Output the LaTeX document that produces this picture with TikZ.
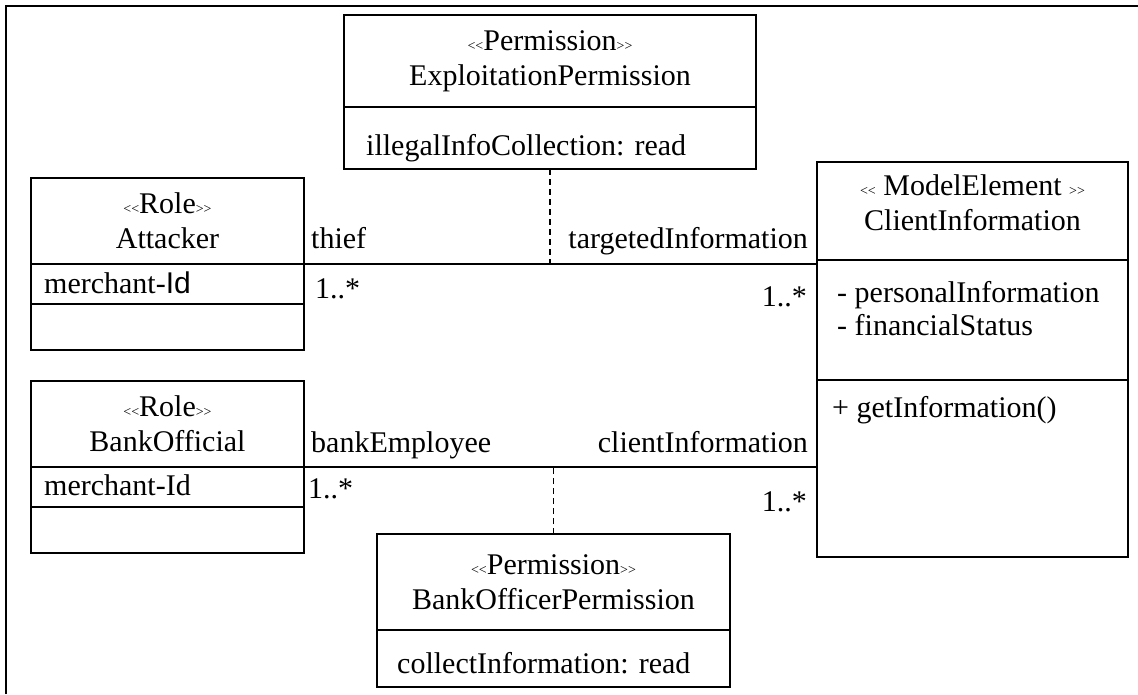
\documentclass[tikz,border=0pt]{standalone}
\usepackage{fontspec}
\setmainfont{Liberation Serif}
\newfontfamily\arialfont{Liberation Sans}
\usetikzlibrary{positioning}
\newcommand{\stype}[1]{{\fontsize{14}{14}\selectfont<\kern0pt<}#1{\fontsize{14}{14}\selectfont>\kern0pt>}}
\tikzset{
  comp/.style={draw, line width=1.8pt, inner sep=0pt, outer sep=0pt, align=center},
  memb/.style={anchor=base west, inner sep=0pt},
  rlab/.style={anchor=base east, inner sep=0pt},
  assoc/.style={line width=1.8pt},
  permlink/.style={line width=1.5pt, dash pattern=on 6pt off 4pt},
}

\begin{document}
\begin{tikzpicture}[x=1pt, y=-1pt, font=\fontsize{30}{35}\selectfont]
\useasboundingbox (0,0) rectangle (1138,694);
\draw[line width=2.2pt] (6,694) -- (6,6) -- (1138,6);
% permission classes
\node[comp, anchor=north west, minimum width=412, minimum height=92] (expHead) at (344,15) {\stype{Permission}\\ExploitationPermission};
\node[comp, below=0pt of expHead, minimum width=412, minimum height=62] (expAttr) {};
\node[memb] (expRead) at (366,155) {illegalInfoCollection: read};
\node[comp, anchor=north west, minimum width=353, minimum height=96] (bopHead) at (377,534) {\stype{Permission}\\BankOfficerPermission};
\node[comp, below=0pt of bopHead, minimum width=353, minimum height=57] (bopAttr) {};
\node[memb] (bopRead) at (397,673) {collectInformation: read};
% roles
\node[comp, anchor=north west, minimum width=273, minimum height=86] (atkHead) at (31,178) {\stype{Role}\\Attacker};
\node[comp, below=0pt of atkHead, minimum width=273, minimum height=40] (atkAttr) {};
\node[comp, below=0pt of atkAttr, minimum width=273, minimum height=46] (atkOps) {};
\node[memb] (atkId) at (44,293) {merchant-{\arialfont Id}};
\node[comp, anchor=north west, minimum width=273, minimum height=86] (bankHead) at (31,381) {\stype{Role}\\BankOfficial};
\node[comp, below=0pt of bankHead, minimum width=273, minimum height=40] (bankAttr) {};
\node[comp, below=0pt of bankAttr, minimum width=273, minimum height=46] (bankOps) {};
\node[memb] (bankId) at (44,495) {merchant-Id};
% model element
\node[comp, anchor=north west, minimum width=311, minimum height=98, text depth=16pt] (ciHead) at (817,162) {\stype{ ModelElement }\\ClientInformation};
\node[comp, below=0pt of ciHead, minimum width=311, minimum height=120] (ciAttr) {};
\node[comp, below=0pt of ciAttr, minimum width=311, minimum height=177] (ciOps) {};
\node[memb] (ciPers) at (837,302) {- personalInformation};
\node[memb] (ciFin) at (837,335) {- financialStatus};
\node[memb] (ciGet) at (832,417) {+ getInformation()};
% associations
\draw[assoc] (atkHead.south east) -- (atkHead.south east -| ciHead.west);
\draw[assoc] (bankHead.south east) -- (bankHead.south east -| ciHead.west);
\draw[permlink] (expAttr.south) -- (expAttr.south |- atkHead.south);
\draw[permlink] (bopHead.north) -- (bopHead.north |- bankHead.south);
\node[memb] (thief) at (311,248) {thief};
\node[rlab] (target) at (808,248) {targetedInformation};
\node[memb] (atkMult) at (315,298) {1..*};
\node[rlab] (tgtMult) at (807,306) {1..*};
\node[memb] (employee) at (311,452) {bankEmployee};
\node[rlab] (client) at (808,452) {clientInformation};
\node[memb] (bankMult) at (308,498) {1..*};
\node[rlab] (cliMult) at (807,511) {1..*};
\end{tikzpicture}
\end{document}
